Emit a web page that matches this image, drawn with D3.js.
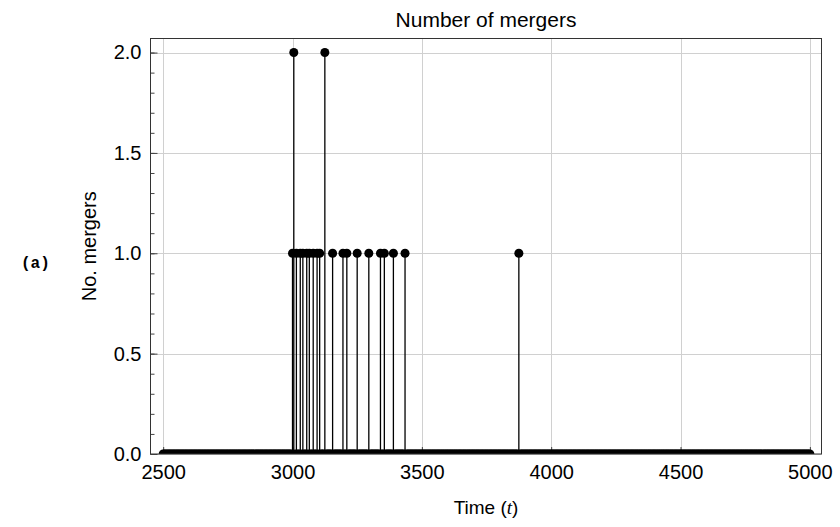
<!DOCTYPE html>
<html>
<head>
<meta charset="utf-8">
<script src="https://cdn.jsdelivr.net/npm/d3@7"></script>
<style>
  body { margin: 0; background: #fff; }
  svg { display: block; font-family: "Liberation Sans", Arial, sans-serif; }
</style>
</head>
<body>
<div id="chart"></div>
<script>
// 시간 범위 (샘플링 간격)
const tStart = 2500;
const tEnd = 5000;
const tStep = 5;
// 병합이 일어난 시각과 횟수
const mergerTimes = [3000, 3005, 3015, 3030, 3040, 3055, 3065, 3080, 3095, 3105, 3125, 3155, 3195, 3210, 3250, 3295, 3340, 3355, 3390, 3435, 3875];
const mergerCounts = [1, 2, 1, 1, 1, 1, 1, 1, 1, 1, 2, 1, 1, 1, 1, 1, 1, 1, 1, 1, 1];
const xTicks = [2500, 3000, 3500, 4000, 4500, 5000];
const yTicks = [0, 0.5, 1.0, 1.5, 2.0];

const width = 840;
const height = 527;
const frame = { left: 150.5, right: 821.5, top: 38.5, bottom: 454 };

// 모든 시각에 대한 값 (병합 없으면 0)
const countByTime = new Map(mergerTimes.map((t, i) => [t, mergerCounts[i]]));
const data = d3.range(tStart, tEnd + tStep, tStep).map((t) => ({ t: t, v: countByTime.get(t) || 0 }));

const x = d3.scaleLinear().domain([2451, 5045]).range([frame.left, frame.right]);
const y = d3.scaleLinear().domain([0, 2.07]).range([frame.bottom, frame.top]);

const svg = d3.select('#chart').append('svg').attr('width', width).attr('height', height);

svg.append('defs').append('clipPath').attr('id', 'clip')
  .append('rect')
  .attr('x', frame.left).attr('y', frame.top)
  .attr('width', frame.right - frame.left).attr('height', frame.bottom - frame.top);

// grid
const grid = svg.append('g').attr('stroke', '#d0d0d0').attr('stroke-width', 1);
grid.selectAll('.gx').data(xTicks).enter().append('line')
  .attr('x1', (d) => Math.round(x(d)) + 0.5).attr('x2', (d) => Math.round(x(d)) + 0.5)
  .attr('y1', frame.top).attr('y2', frame.bottom);
grid.selectAll('.gy').data(yTicks).enter().append('line')
  .attr('x1', frame.left).attr('x2', frame.right)
  .attr('y1', (d) => Math.round(y(d)) + 0.5).attr('y2', (d) => Math.round(y(d)) + 0.5);

// axes (ticks inward)
const xAxis = (g) =>
  g.attr('transform', `translate(0, ${frame.bottom})`)
    .call(d3.axisBottom(x).tickValues(xTicks).tickSize(-7).tickPadding(11).tickFormat(d3.format('d')))
    .call((g) => g.select('.domain').remove());
const xMinor = (g) =>
  g.attr('transform', `translate(0, ${frame.bottom})`)
    .call(d3.axisBottom(x).tickValues(d3.range(2500, 5001, 100)).tickSize(-4).tickFormat(''))
    .call((g) => g.select('.domain').remove());
const yAxis = (g) =>
  g.attr('transform', `translate(${frame.left}, 0)`)
    .call(d3.axisLeft(y).tickValues(yTicks).tickSize(-7).tickPadding(9).tickFormat(d3.format('.1f')))
    .call((g) => g.select('.domain').remove());
const yMinor = (g) =>
  g.attr('transform', `translate(${frame.left}, 0)`)
    .call(d3.axisLeft(y).tickValues(d3.range(0, 2.01, 0.1)).tickSize(-4).tickFormat(''))
    .call((g) => g.select('.domain').remove());

svg.append('g').call(xMinor);
svg.append('g').call(yMinor);
svg.append('g').call(xAxis);
svg.append('g').call(yAxis);
svg.selectAll('.tick line').attr('stroke', '#444');
svg.selectAll('.tick text').attr('fill', '#000').style('font-size', '20px')
  .style('font-family', '"Liberation Sans", Arial, sans-serif');

// stems + points
const plot = svg.append('g').attr('clip-path', 'url(#clip)');
plot.append('g').selectAll('line')
  .data(data.filter((d) => d.v > 0))
  .enter().append('line')
  .attr('x1', (d) => x(d.t)).attr('x2', (d) => x(d.t))
  .attr('y1', y(0)).attr('y2', (d) => y(d.v))
  .attr('stroke', '#000').attr('stroke-width', 1.3);
plot.append('g').selectAll('circle')
  .data(data)
  .enter().append('circle')
  .attr('cx', (d) => x(d.t)).attr('cy', (d) => y(d.v))
  .attr('r', 4.5).attr('fill', '#000');

// frame
svg.append('rect')
  .attr('x', frame.left).attr('y', frame.top)
  .attr('width', frame.right - frame.left).attr('height', frame.bottom - frame.top)
  .attr('fill', 'none').attr('stroke', '#333').attr('stroke-width', 1);

const cx = (frame.left + frame.right) / 2;
svg.append('text').attr('x', cx).attr('y', 27).attr('text-anchor', 'middle')
  .style('font-size', '21px').attr('fill', '#000').text('Number of mergers');

const xl = svg.append('text').attr('x', cx).attr('y', 514).attr('text-anchor', 'middle')
  .style('font-size', '19px').attr('fill', '#000');
xl.append('tspan').text('Time (');
xl.append('tspan').style('font-family', '"Liberation Serif", serif').style('font-style', 'italic').text('t');
xl.append('tspan').text(')');

svg.append('text').attr('transform', `translate(96, ${(frame.top + frame.bottom) / 2}) rotate(-90)`)
  .attr('text-anchor', 'middle').style('font-size', '20px').attr('fill', '#000').text('No. mergers');

svg.append('text').attr('x', 21).attr('y', 268)
  .style('font-family', '"Liberation Mono", monospace').style('font-weight', 'bold')
  .style('font-size', '16px').attr('fill', '#000').text('(a)');
</script>
</body>
</html>
